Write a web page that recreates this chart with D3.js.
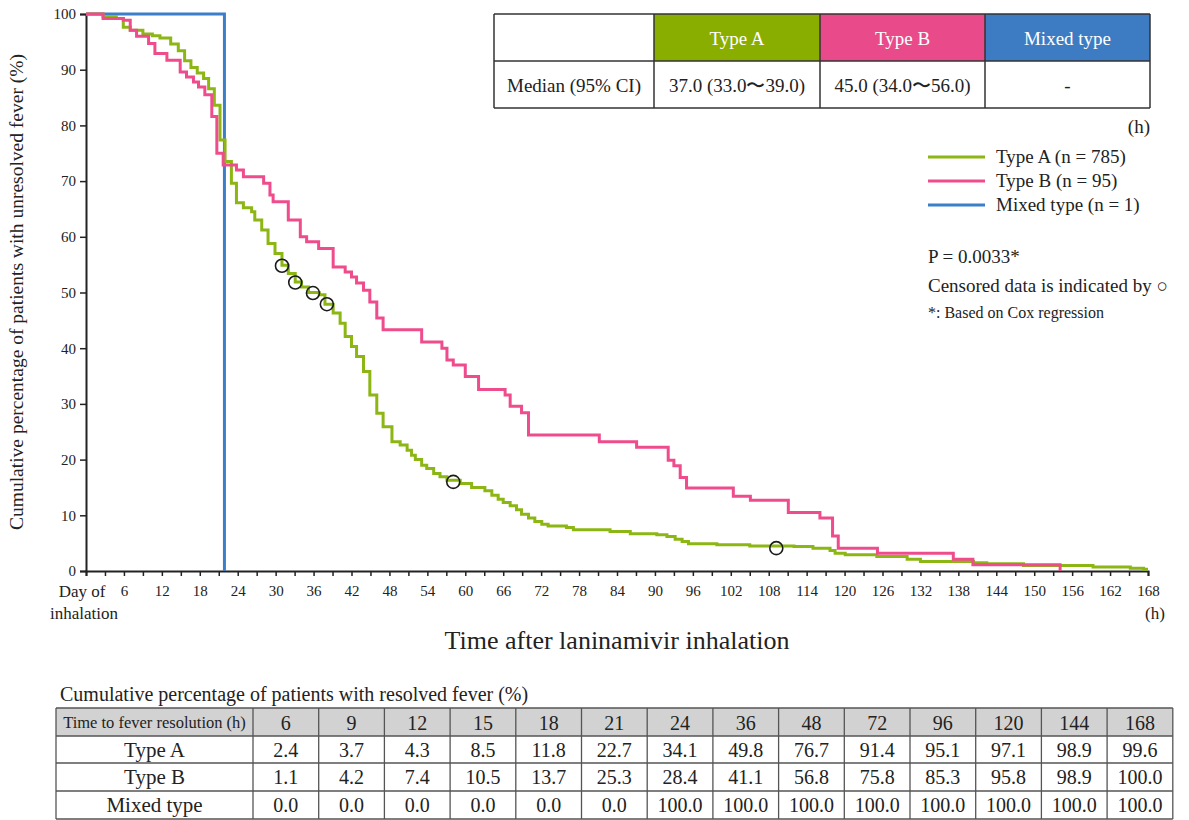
<!DOCTYPE html>
<html lang="en">
	<head>
		<meta charset="utf-8">
		<title>D3: Time to fever resolution</title>
		<script type="text/javascript" src="https://d3js.org/d3.v7.min.js"></script>
		<style type="text/css">
			body { margin: 0; background: #fff; }
			text { font-family: "Liberation Serif", "Times New Roman", serif; fill: #222; }
			.axis text { font-size: 15px; }
			.axis-title { font-size: 26px; }
			.y-title { font-size: 19.5px; }
			.legend { font-size: 19px; }
			.note { font-size: 19px; }
			.small-note { font-size: 16px; }
			.tbl { font-size: 19px; }
		</style>
	</head>
	<body>
		<div id="chart"></div>
		<script type="text/javascript">
			// Kaplan-Meier steps (hours, % unresolved)
			const typeATimes  = [0, 2.7, 4.8, 5.9, 7.0, 9.0, 10.5, 11.7, 13.4, 14.6, 15.6, 16.6, 17.6, 18.6, 19.4, 20.3, 21.2, 22.0, 23.0, 23.8, 24.9, 26.2, 26.7, 27.8, 28.8, 29.9, 31.0, 32.0, 33.1, 34.1, 35.2, 36.9, 37.8, 39.1, 40.2, 41.0, 42.0, 42.8, 43.9, 44.9, 46.0, 47.0, 48.4, 49.7, 50.8, 51.5, 52.1, 53.1, 53.9, 55.0, 56.0, 57.1, 59.2, 61.0, 63.1, 64.2, 65.2, 66.0, 67.1, 68.1, 68.9, 70.0, 71.0, 72.1, 73.1, 76.0, 77.1, 82.9, 86.1, 90.3, 91.9, 93.2, 94.3, 95.3, 99.8, 105.0, 112.0, 115.0, 117.7, 118.5, 120.1, 125.1, 129.9, 132.0, 140.4, 142.5, 148.3, 159.3, 165.2, 167.3, 168];
			const typeAValues = [100, 99.5, 99.2, 97.6, 97.1, 96.4, 96.1, 95.7, 94.6, 93.4, 91.6, 90.4, 89.4, 88.4, 86.6, 83.6, 77.4, 73.5, 69.6, 66.1, 65.2, 64.5, 63.0, 61.2, 58.8, 57.0, 54.9, 53.4, 51.9, 51.0, 50.0, 49.6, 47.9, 46.3, 44.5, 42.1, 40.3, 38.5, 35.8, 31.6, 28.3, 25.9, 23.2, 22.6, 21.7, 20.8, 20.0, 19.0, 18.4, 17.5, 16.9, 16.3, 15.7, 15.0, 14.4, 13.6, 12.9, 12.3, 11.7, 11.0, 10.2, 9.5, 8.9, 8.4, 8.1, 7.8, 7.4, 7.1, 6.7, 6.5, 6.2, 5.7, 5.3, 4.9, 4.7, 4.5, 4.4, 4.1, 3.7, 3.2, 2.9, 2.6, 2.1, 1.7, 1.5, 1.3, 1.0, 0.7, 0.5, 0.3, 0.3];
			const typeBTimes  = [0, 2.7, 5.9, 7.0, 8.0, 9.9, 10.9, 12.8, 14.9, 15.9, 17.0, 17.8, 18.8, 19.9, 20.7, 21.7, 23.8, 24.9, 28.1, 29.1, 29.6, 32.0, 33.9, 34.9, 36.8, 39.1, 41.0, 42.0, 42.8, 43.9, 44.9, 46.0, 47.0, 53.1, 56.3, 57.1, 58.1, 60.0, 62.1, 66.3, 67.1, 68.9, 70.0, 81.2, 87.1, 92.1, 93.0, 94.0, 95.0, 102.4, 105.1, 111.1, 116.1, 118.1, 119.0, 125.2, 137.2, 140.3, 154.1];
			const typeBValues = [100, 99.2, 98.9, 97.1, 96.0, 94.7, 92.9, 91.7, 89.6, 88.7, 87.8, 86.9, 85.5, 81.6, 75.0, 72.9, 72.0, 70.8, 69.6, 67.5, 66.3, 63.0, 60.0, 59.1, 57.9, 54.6, 53.7, 52.8, 51.7, 50.4, 48.3, 45.4, 43.3, 41.1, 40.0, 37.9, 37.0, 34.9, 32.6, 31.6, 29.6, 28.4, 24.4, 23.2, 22.2, 19.9, 18.9, 16.8, 14.9, 13.4, 12.7, 10.5, 9.5, 6.3, 4.1, 3.2, 2.1, 1.1, 0];
			const mixedTimes  = [0, 21.9];
			const mixedValues = [100, 0];

			// censored observations (Type A)
			const censorTimes  = [31.0, 33.1, 35.9, 38.1, 58.1, 109.2];
			const censorValues = [54.8, 51.8, 49.9, 47.9, 16.0, 4.1];

			// median table
			const medianGroups = ["Type A", "Type B", "Mixed type"];
			const medianValues = ["37.0 (33.0〜39.0)", "45.0 (34.0〜56.0)", "-"];

			// legend
			const legendLabels = ["Type A (n = 785)", "Type B (n = 95)", "Mixed type (n = 1)"];

			// cumulative resolved table
			const tableHours  = [6, 9, 12, 15, 18, 21, 24, 36, 48, 72, 96, 120, 144, 168];
			const tableTypeA  = ["2.4", "3.7", "4.3", "8.5", "11.8", "22.7", "34.1", "49.8", "76.7", "91.4", "95.1", "97.1", "98.9", "99.6"];
			const tableTypeB  = ["1.1", "4.2", "7.4", "10.5", "13.7", "25.3", "28.4", "41.1", "56.8", "75.8", "85.3", "95.8", "98.9", "100.0"];
			const tableMixed  = ["0.0", "0.0", "0.0", "0.0", "0.0", "0.0", "100.0", "100.0", "100.0", "100.0", "100.0", "100.0", "100.0", "100.0"];

			const colors = { a: "#8cb614", b: "#ee4c8c", m: "#3c7fc8" };
			const headColors = ["#8aae00", "#e94b8a", "#3d7cc3"];

			const W = 1189, H = 820;
			const svg = d3.select("#chart").append("svg")
				.attr("width", W).attr("height", H);

			//Scales
			const xScale = d3.scaleLinear().domain([0, 168]).range([86, 1148]);
			const yScale = d3.scaleLinear().domain([0, 100]).range([571, 14]);

			//Axes
			const yAxis = d3.axisLeft(yScale).tickValues(d3.range(0, 101, 10)).tickSize(6).tickPadding(4);
			const gy = svg.append("g").attr("class", "axis")
				.attr("transform", "translate(86,0)")
				.call(yAxis);
			gy.select(".domain").attr("stroke", "#222").attr("stroke-width", 2);
			gy.selectAll(".tick line").attr("stroke", "#222").attr("stroke-width", 1.5);

			const xAxis = d3.axisBottom(xScale).tickValues(d3.range(0, 169, 3)).tickSize(5)
				.tickFormat(d => (d > 0 && d % 6 === 0) ? d : "");
			const gx = svg.append("g").attr("class", "axis")
				.attr("transform", "translate(0,571)")
				.call(xAxis);
			gx.select(".domain").attr("stroke", "#222").attr("stroke-width", 2);
			gx.selectAll(".tick line").attr("stroke", "#222").attr("stroke-width", 1.5);
			gx.selectAll(".tick text").attr("dy", "1.1em");

			svg.append("text").attr("x", 82).attr("y", 597)
				.attr("text-anchor", "middle").style("font-size", "17px").text("Day of");
			svg.append("text").attr("x", 84).attr("y", 619)
				.attr("text-anchor", "middle").style("font-size", "17px").text("inhalation");
			svg.append("text").attr("x", 1155).attr("y", 619)
				.attr("text-anchor", "middle").style("font-size", "17px").text("(h)");

			svg.append("text").attr("class", "axis-title")
				.attr("x", 617).attr("y", 649).attr("text-anchor", "middle")
				.text("Time after laninamivir inhalation");
			svg.append("text").attr("class", "y-title")
				.attr("transform", "translate(23,292) rotate(-90)")
				.attr("text-anchor", "middle")
				.text("Cumulative percentage of patients with unresolved fever (%)");

			//Curves
			const line = d3.line()
				.x(d => xScale(d[0]))
				.y(d => yScale(d[1]))
				.curve(d3.curveStepAfter);
			const curves = [
				{ t: mixedTimes, v: mixedValues, c: colors.m },
				{ t: typeATimes, v: typeAValues, c: colors.a },
				{ t: typeBTimes, v: typeBValues, c: colors.b }
			];
			curves.forEach(s => {
				const pts = s.t.map((t, i) => [t, s.v[i]]);
				svg.append("path")
					.datum(pts)
					.attr("fill", "none")
					.attr("stroke", s.c)
					.attr("stroke-width", 3)
					.attr("d", line);
			});

			svg.selectAll(".censor")
				.data(censorTimes)
				.enter()
				.append("circle")
				.attr("class", "censor")
				.attr("cx", d => xScale(d))
				.attr("cy", (d, i) => yScale(censorValues[i]))
				.attr("r", 6.5)
				.attr("fill", "none")
				.attr("stroke", "#1a1a1a")
				.attr("stroke-width", 1.6);

			//Median table
			const mt = { x: [494, 654, 820, 985, 1150], y: [14, 61, 108] };
			const mg = svg.append("g").attr("class", "tbl");
			medianGroups.forEach((g, i) => {
				mg.append("rect")
					.attr("x", mt.x[i + 1]).attr("y", mt.y[0])
					.attr("width", mt.x[i + 2] - mt.x[i + 1]).attr("height", mt.y[1] - mt.y[0])
					.attr("fill", headColors[i]);
				mg.append("text")
					.attr("x", (mt.x[i + 1] + mt.x[i + 2]) / 2).attr("y", 45)
					.attr("text-anchor", "middle").style("fill", "#fff")
					.text(g);
				mg.append("text")
					.attr("x", (mt.x[i + 1] + mt.x[i + 2]) / 2).attr("y", 92)
					.attr("text-anchor", "middle")
					.text(medianValues[i]);
			});
			mg.append("text").attr("x", (mt.x[0] + mt.x[1]) / 2).attr("y", 92)
				.attr("text-anchor", "middle").text("Median (95% CI)");
			mt.x.forEach(x => mg.append("line").attr("x1", x).attr("x2", x)
				.attr("y1", mt.y[0]).attr("y2", mt.y[2]).attr("stroke", "#333").attr("stroke-width", 1.5));
			mt.y.forEach(y => mg.append("line").attr("x1", mt.x[0]).attr("x2", mt.x[4])
				.attr("y1", y).attr("y2", y).attr("stroke", "#333").attr("stroke-width", 1.5));

			svg.append("text").attr("class", "legend").attr("x", 1150).attr("y", 133)
				.attr("text-anchor", "end").text("(h)");

			//Legend
			const lg = svg.append("g").attr("class", "legend");
			[colors.a, colors.b, colors.m].forEach((c, i) => {
				const y = 157 + i * 24;
				lg.append("line").attr("x1", 928).attr("x2", 985)
					.attr("y1", y).attr("y2", y).attr("stroke", c).attr("stroke-width", 3);
				lg.append("text").attr("x", 996).attr("y", y + 6).text(legendLabels[i]);
			});
			svg.append("text").attr("class", "note").attr("x", 928).attr("y", 263).text("P = 0.0033*");
			svg.append("text").attr("class", "note").attr("x", 928).attr("y", 292).text("Censored data is indicated by ○");
			svg.append("text").attr("class", "small-note").attr("x", 928).attr("y", 318).text("*: Based on Cox regression");

			//Bottom table
			svg.append("text").attr("class", "note").attr("x", 60).attr("y", 701)
				.style("font-size", "20px")
				.text("Cumulative percentage of patients with resolved fever (%)");
			const bx0 = 56, bx1 = 253, cw = 65.7;
			const rowsY = [708, 736, 763, 791, 819];
			const bt = svg.append("g").attr("class", "tbl");
			const bRight = bx1 + cw * tableHours.length;
			bt.append("rect").attr("x", bx0).attr("y", rowsY[0])
				.attr("width", bRight - bx0).attr("height", rowsY[1] - rowsY[0])
				.attr("fill", "#d2d2d2");
			const rowLabels = ["Type A", "Type B", "Mixed type"];
			const rowData = [tableTypeA, tableTypeB, tableMixed];
			bt.append("text").attr("x", (bx0 + bx1) / 2).attr("y", 728)
				.attr("text-anchor", "middle").style("font-size", "16.5px")
				.text("Time to fever resolution (h)");
			tableHours.forEach((h, j) => {
				bt.append("text").attr("x", bx1 + cw * (j + 0.5)).attr("y", 730)
					.attr("text-anchor", "middle").style("font-size", "20px").text(h);
			});
			rowLabels.forEach((r, i) => {
				const yb = rowsY[i + 1] + 21;
				bt.append("text").attr("x", (bx0 + bx1) / 2).attr("y", yb)
					.attr("text-anchor", "middle").style("font-size", "21px").text(r);
				rowData[i].forEach((v, j) => {
					bt.append("text").attr("x", bx1 + cw * (j + 0.5)).attr("y", yb)
						.attr("text-anchor", "middle").style("font-size", "20px").text(v);
				});
			});
			const colX = [bx0].concat(d3.range(0, tableHours.length + 1).map(j => bx1 + cw * j));
			colX.forEach(x => bt.append("line").attr("x1", x).attr("x2", x)
				.attr("y1", rowsY[0]).attr("y2", rowsY[4]).attr("stroke", "#555").attr("stroke-width", 1.3));
			rowsY.forEach(y => bt.append("line").attr("x1", bx0).attr("x2", bRight)
				.attr("y1", y).attr("y2", y).attr("stroke", "#555").attr("stroke-width", 1.3));
		</script>
	</body>
</html>
